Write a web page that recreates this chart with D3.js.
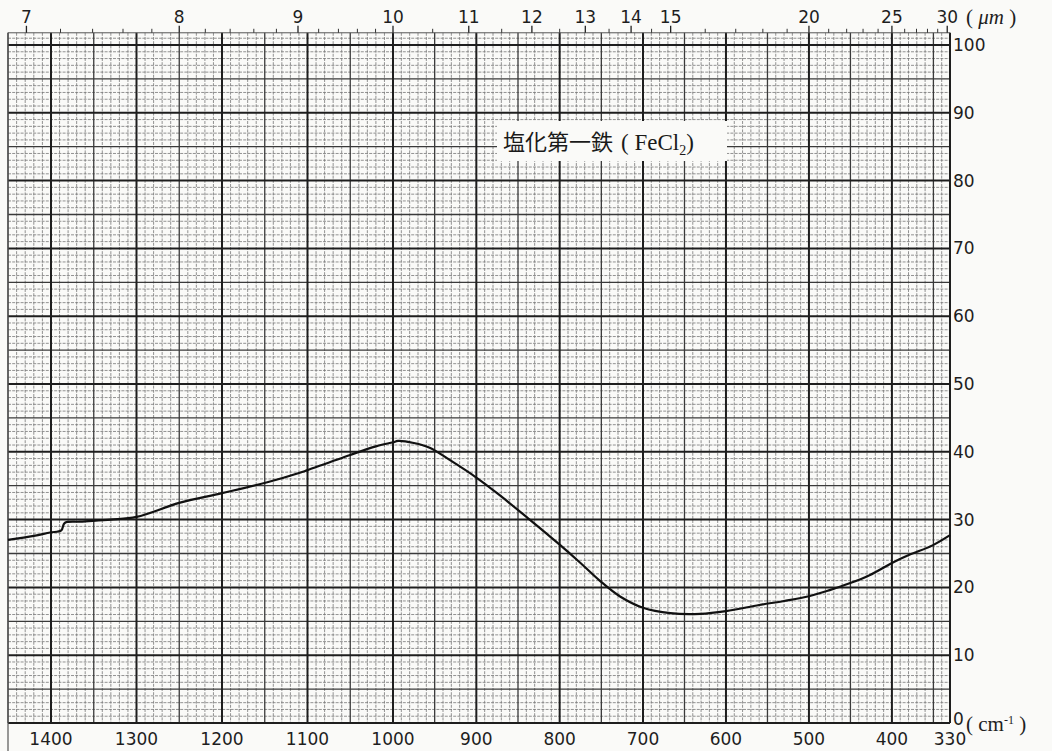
<!DOCTYPE html>
<html>
<head>
<meta charset="utf-8">
<script src="https://cdn.jsdelivr.net/npm/d3@7"></script>
<style>
  html, body { margin: 0; padding: 0; background: #fafaf8; }
  svg { display: block; }
</style>
</head>
<body>
<svg id="chart" width="1052" height="751"></svg>
<script>
// IR transmission spectrum of ferrous chloride
const wavenumbers = [1450, 1420, 1401, 1388, 1384, 1366, 1330, 1300, 1249, 1200, 1147, 1109, 1100,
                     1051, 1020, 1000, 994, 975, 956, 932, 900, 872, 836, 800, 775, 752, 728,
                     700, 667, 631, 600, 560, 530, 500, 475, 451, 427, 400, 379, 351, 330];
const transmittance = [27.0, 27.6, 28.1, 28.4, 29.5, 29.7, 30.0, 30.4, 32.5, 33.9, 35.5, 36.9, 37.3,
                       39.5, 40.8, 41.4, 41.6, 41.3, 40.6, 38.8, 36.2, 33.6, 30.0, 26.3, 23.6, 21.0, 18.7,
                       17.0, 16.2, 16.1, 16.5, 17.4, 18.0, 18.7, 19.6, 20.6, 21.8, 23.6, 24.8, 26.2, 27.7];

const xTickLabels = [1400, 1300, 1200, 1100, 1000, 900, 800, 700, 600, 500, 400, 330];
const yTickLabels = [0, 10, 20, 30, 40, 50, 60, 70, 80, 90, 100];
const umLabels = [7, 8, 9, 10, 11, 12, 13, 14, 15, 20, 25, 30];
const umMinorTicks = [7.2, 7.4, 7.6, 7.8, 8.2, 8.4, 8.6, 8.8, 9.2, 9.4, 9.6, 9.8,
                      10.5, 11.5, 12.5, 13.5, 14.5, 16, 17, 18, 19, 21, 22, 23, 24, 26, 27, 28, 29];
const title = "塩化第一鉄";
const formula = ["FeCl", "2"];

const svg = d3.select("#chart");

// chart paper: wavenumber scale changes slightly at 1000 and 700 cm-1
const x = d3.scaleLinear()
    .domain([1450, 1400, 1000, 700, 330])
    .range([8, 51, 393, 643, 950]);
const y = d3.scaleLinear().domain([0, 100]).range([723, 45]);
const yTop = y(101.8);

const grid = svg.append("g").attr("class", "grid");

// fine lines first, heavy lines on top
const vFine = d3.range(330, 1451, 10);
const hFine = d3.range(0, 102, 1);

grid.selectAll("line.vf").data(vFine.filter(d => d % 50 !== 0)).enter().append("line")
    .attr("x1", d => x(d)).attr("x2", d => x(d))
    .attr("y1", yTop).attr("y2", y(0))
    .attr("stroke", "#777").attr("stroke-width", 0.8)
    .attr("stroke-dasharray", "3,1.2");

grid.selectAll("line.hf").data(hFine.filter(d => d % 5 !== 0)).enter().append("line")
    .attr("x1", x(1450)).attr("x2", x(330))
    .attr("y1", d => y(d)).attr("y2", d => y(d))
    .attr("stroke", "#777").attr("stroke-width", 0.8)
    .attr("stroke-dasharray", "3,1.2");

grid.selectAll("line.vm").data(vFine.filter(d => d % 50 === 0 && d % 100 !== 0)).enter().append("line")
    .attr("x1", d => x(d)).attr("x2", d => x(d))
    .attr("y1", yTop).attr("y2", y(0))
    .attr("stroke", "#3a3a3a").attr("stroke-width", 1.3);

grid.selectAll("line.hm").data(hFine.filter(d => d % 5 === 0 && d % 10 !== 0)).enter().append("line")
    .attr("x1", x(1450)).attr("x2", x(330))
    .attr("y1", d => y(d)).attr("y2", d => y(d))
    .attr("stroke", "#3a3a3a").attr("stroke-width", 1.3);

grid.selectAll("line.vM").data(vFine.filter(d => d % 100 === 0)).enter().append("line")
    .attr("x1", d => x(d)).attr("x2", d => x(d))
    .attr("y1", yTop).attr("y2", y(0))
    .attr("stroke", "#1e1e1e").attr("stroke-width", 2);

grid.selectAll("line.hM").data(yTickLabels).enter().append("line")
    .attr("x1", x(1450)).attr("x2", x(330))
    .attr("y1", d => y(d)).attr("y2", d => y(d))
    .attr("stroke", "#1e1e1e").attr("stroke-width", 2);

// frame
grid.append("line").attr("x1", x(330)).attr("x2", x(330)).attr("y1", yTop).attr("y2", y(0))
    .attr("stroke", "#1e1e1e").attr("stroke-width", 2);
grid.append("line").attr("x1", x(1450)).attr("x2", x(1450)).attr("y1", yTop).attr("y2", 751)
    .attr("stroke", "#555").attr("stroke-width", 1.2);
grid.append("line").attr("x1", x(1450)).attr("x2", x(330)).attr("y1", yTop).attr("y2", yTop)
    .attr("stroke", "#555").attr("stroke-width", 1);

// wavelength ticks along the top edge
svg.selectAll("line.um").data(umMinorTicks).enter().append("line")
    .attr("x1", d => x(10000 / d)).attr("x2", d => x(10000 / d))
    .attr("y1", yTop - 4).attr("y2", yTop)
    .attr("stroke", "#333").attr("stroke-width", 1);
svg.selectAll("line.umM").data(umLabels).enter().append("line")
    .attr("x1", d => x(10000 / d)).attr("x2", d => x(10000 / d))
    .attr("y1", yTop - 7).attr("y2", yTop)
    .attr("stroke", "#222").attr("stroke-width", 1.3);

const labelFont = "'DejaVu Sans', sans-serif";

svg.selectAll("text.um").data(umLabels).enter().append("text")
    .attr("x", d => x(10000 / d)).attr("y", 23)
    .attr("text-anchor", "middle")
    .attr("font-family", labelFont).attr("font-size", 17).attr("fill", "#1e1e1e")
    .text(d => d);

svg.append("text").attr("x", 966).attr("y", 24)
    .attr("font-family", "'Liberation Serif', serif").attr("font-size", 21).attr("fill", "#1e1e1e")
    .html("( <tspan font-style='italic'>μm</tspan> )");

svg.selectAll("text.wn").data(xTickLabels).enter().append("text")
    .attr("x", d => x(d)).attr("y", 745)
    .attr("text-anchor", "middle")
    .attr("font-family", labelFont).attr("font-size", 17).attr("fill", "#1e1e1e")
    .text(d => d);

svg.append("text").attr("x", 966).attr("y", 731)
    .attr("font-family", "'Liberation Serif', serif").attr("font-size", 21).attr("fill", "#1e1e1e")
    .html("( cm<tspan baseline-shift='super' font-size='12'>-1</tspan> )");

svg.selectAll("text.pct").data(yTickLabels).enter().append("text")
    .attr("x", x(330) + 3).attr("y", d => y(d) + (d === 0 ? 2 : 6))
    .attr("font-family", labelFont).attr("font-size", 17).attr("fill", "#1e1e1e")
    .text(d => d);

// title with paper cleared behind it
svg.append("rect").attr("x", 497).attr("y", 121).attr("width", 230).attr("height", 40)
    .attr("fill", "#fafaf8");
const t = svg.append("text").attr("x", 503).attr("y", 150)
    .attr("font-family", "'Noto Sans CJK JP', sans-serif").attr("font-size", 22).attr("fill", "#1a1a1a");
t.append("tspan").text(title);
t.append("tspan").attr("font-family", "'Liberation Serif', serif").attr("font-size", 23)
    .attr("dx", 8).text("( " + formula[0]);
t.append("tspan").attr("font-family", "'Liberation Serif', serif").attr("font-size", 14)
    .attr("dy", 5).text(formula[1]);
t.append("tspan").attr("font-family", "'Liberation Serif', serif").attr("font-size", 23)
    .attr("dy", -5).text(")");

// spectrum trace
const pts = wavenumbers.map((w, i) => [w, transmittance[i]]);
const line = d3.line()
    .x(d => x(d[0]))
    .y(d => y(d[1]))
    .curve(d3.curveCatmullRom.alpha(0.5));

svg.append("path").datum(pts)
    .attr("d", line)
    .attr("fill", "none")
    .attr("stroke", "#111")
    .attr("stroke-width", 2.2)
    .attr("stroke-linejoin", "round");
</script>
</body>
</html>
